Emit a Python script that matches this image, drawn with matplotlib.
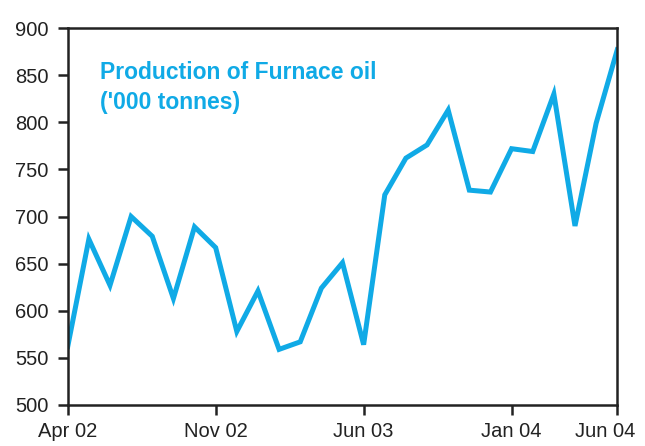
import matplotlib.pyplot as plt
import matplotlib.transforms as mtransforms

plt.rcParams['font.family'] = ['Liberation Sans', 'DejaVu Sans']

months = ["Apr 02", "May 02", "Jun 02", "Jul 02", "Aug 02", "Sep 02", "Oct 02",
          "Nov 02", "Dec 02", "Jan 03", "Feb 03", "Mar 03", "Apr 03", "May 03",
          "Jun 03", "Jul 03", "Aug 03", "Sep 03", "Oct 03", "Nov 03", "Dec 03",
          "Jan 04", "Feb 04", "Mar 04", "Apr 04", "May 04", "Jun 04"]
production = [562, 676, 627, 700, 679, 613, 689, 667, 578, 621, 559, 567, 624,
              651, 564, 723, 762, 776, 813, 728, 726, 772, 769, 830, 690, 799, 877]
tick_labels = ["Apr 02", "Nov 02", "Jun 03", "Jan 04", "Jun 04"]

fig, ax = plt.subplots(figsize=(6.45, 4.46), dpi=100)
fig.subplots_adjust(left=0.105, right=0.957, top=0.937, bottom=0.092)

x = list(range(len(months)))
ax.plot(x, production, color="#10aae6", linewidth=3.6, solid_joinstyle="miter")

ax.set_xlim(0, len(months) - 1)
ax.set_ylim(500, 900)
ax.set_yticks(range(500, 901, 50))
ax.set_xticks([months.index(m) for m in tick_labels])
ax.set_xticklabels(tick_labels)

for s in ax.spines.values():
    s.set_linewidth(1.8)
    s.set_color("#222222")
ax.tick_params(axis="both", direction="out", length=7, width=1.8,
               labelsize=14.5, colors="#222222")
ax.tick_params(axis="y", pad=7)
ax.tick_params(axis="x", pad=5)

# last label sits a little left of its tick so it stays inside the figure
last = ax.get_xticklabels()[-1]
last.set_transform(last.get_transform() +
                   mtransforms.ScaledTranslation(-12 / 100, 0, fig.dpi_scale_trans))

ax.text(0.058, 0.912, "Production of Furnace oil\n('000 tonnes)", transform=ax.transAxes,
        color="#10aae6", fontsize=16.5, fontweight="bold", va="top", ha="left",
        linespacing=1.35)

fig.savefig("out.png", dpi=100)
